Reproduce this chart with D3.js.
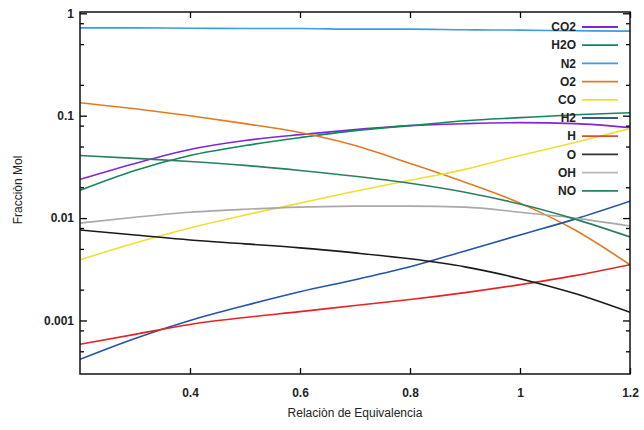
<!DOCTYPE html>
<html>
<head>
<meta charset="utf-8">
<script src="https://cdn.jsdelivr.net/npm/d3@7"></script>
<style>
  body { margin: 0; background: #fff; }
  text { font-family: "Liberation Sans", Arial, sans-serif; }
</style>
</head>
<body>
<div id="chart"></div>
<script>
// equivalence ratio samples
const phi = [0.2, 0.3, 0.4, 0.5, 0.6, 0.7, 0.8, 0.9, 1.0, 1.1, 1.2];

// mole fractions
const co2 = [0.0239, 0.0342, 0.0468, 0.0572, 0.0654, 0.0731, 0.080, 0.0836, 0.0855, 0.0836, 0.0764];
const h2o = [0.0187, 0.0292, 0.0409, 0.0511, 0.0611, 0.0715, 0.080, 0.0894, 0.0957, 0.102, 0.107];
const n2  = [0.72, 0.72, 0.715, 0.71, 0.71, 0.70, 0.70, 0.69, 0.685, 0.675, 0.67];
const o2  = [0.134, 0.117, 0.100, 0.0836, 0.0684, 0.0511, 0.0342, 0.0224, 0.0140, 0.00764, 0.0035];
const co  = [0.00391, 0.00572, 0.0080, 0.0107, 0.0140, 0.0183, 0.0234, 0.0299, 0.0409, 0.0547, 0.0748];
const h2  = [0.000418, 0.000668, 0.0010, 0.0014, 0.00191, 0.0025, 0.00334, 0.00478, 0.00684, 0.00977, 0.0146];
const h   = [0.000585, 0.000731, 0.000915, 0.00107, 0.00122, 0.0014, 0.0016, 0.00187, 0.00224, 0.00274, 0.0035];
const o   = [0.00764, 0.00684, 0.00611, 0.0056, 0.00512, 0.00457, 0.0040, 0.00334, 0.00256, 0.00183, 0.0012];
const oh  = [0.00894, 0.0102, 0.0114, 0.0122, 0.0128, 0.0131, 0.0131, 0.0128, 0.0114, 0.0100, 0.00836];
const no  = [0.0409, 0.0383, 0.0357, 0.0327, 0.0292, 0.0256, 0.0219, 0.0179, 0.0137, 0.00977, 0.00654];

const names = ["CO2", "H2O", "N2", "O2", "CO", "H2", "H", "O", "OH", "NO"];
const colors = ["#8424d8", "#13865a", "#3d9be0", "#e37a22", "#ece034", "#2653a8", "#e22424", "#1a1a1a", "#a8a8a8", "#2a7f60"];
const legendColors = ["#8424d8", "#13865a", "#3d9be0", "#e37a22", "#ece034", "#3b5a8c", "#e04a3a", "#333333", "#b8b8b8", "#2a7f60"];
const series = [co2, h2o, n2, o2, co, h2, h, o, oh, no];

const xTicks = [0.4, 0.6, 0.8, 1.0, 1.2];
const yTicks = [1, 0.1, 0.01, 0.001];
const yTickLabels = ["1", "0.1", "0.01", "0.001"];

const width = 644, height = 430;
const plotL = 80, plotR = 630, plotT = 12, plotB = 374;

let svg = d3.select("#chart").append("svg")
    .attr("width", width)
    .attr("height", height);

let xScale = d3.scaleLinear().domain([0.2, 1.2]).range([plotL, plotR]);
let yScale = d3.scaleLog().domain([0.0003, 1.03]).range([plotB, plotT]);

// minor ticks at 2, 5, 8 of each decade
let minor = [];
[0.0001, 0.001, 0.01, 0.1].forEach(d => {
    [2, 5, 8].forEach(m => {
        let v = d * m;
        if (v >= 0.0003 && v <= 1.03) minor.push(v);
    });
});

svg.append("defs").append("clipPath").attr("id", "clip")
    .append("rect")
    .attr("x", plotL).attr("y", plotT)
    .attr("width", plotR - plotL).attr("height", plotB - plotT);

// lines
let line = d3.line()
    .x((d, i) => xScale(phi[i]))
    .y(d => yScale(d))
    .curve(d3.curveMonotoneX);

svg.append("g")
    .attr("clip-path", "url(#clip)")
   .selectAll("path")
   .data(series)
   .join("path")
    .attr("d", d => line(d))
    .attr("fill", "none")
    .attr("stroke", (d, i) => colors[i])
    .attr("stroke-width", 1.6);

// axes
function styleAxis(g){
    g.select(".domain").remove();
    g.selectAll("line").attr("stroke", "#000").attr("stroke-width", 1.3);
    g.selectAll("text")
        .attr("fill", "#222")
        .style("font-size", "12px")
        .style("font-weight", "bold");
}

svg.append("g")
    .attr("transform", "translate(0," + plotB + ")")
    .call(d3.axisBottom(xScale).tickValues(xTicks).tickSize(-6).tickPadding(14)
        .tickFormat(d => d3.format("~g")(d)))
    .call(styleAxis);

svg.append("g")
    .attr("transform", "translate(0," + plotT + ")")
    .call(d3.axisTop(xScale).tickValues(xTicks).tickSize(-6).tickFormat(""))
    .call(styleAxis);

svg.append("g")
    .attr("transform", "translate(" + plotL + ",0)")
    .call(d3.axisLeft(yScale).tickValues(yTicks).tickSize(-7).tickPadding(6)
        .tickFormat((d, i) => yTickLabels[i]))
    .call(styleAxis);

svg.append("g")
    .attr("transform", "translate(" + plotL + ",0)")
    .call(d3.axisLeft(yScale).tickValues(minor).tickSize(-4).tickFormat(""))
    .call(styleAxis);

svg.append("g")
    .attr("transform", "translate(" + plotR + ",0)")
    .call(d3.axisRight(yScale).tickValues(yTicks).tickSize(-7).tickFormat(""))
    .call(styleAxis);

svg.append("g")
    .attr("transform", "translate(" + plotR + ",0)")
    .call(d3.axisRight(yScale).tickValues(minor).tickSize(-4).tickFormat(""))
    .call(styleAxis);

// frame
svg.append("rect")
    .attr("x", plotL).attr("y", plotT)
    .attr("width", plotR - plotL).attr("height", plotB - plotT)
    .attr("fill", "none")
    .attr("stroke", "#111")
    .attr("stroke-width", 1.5);

// axis titles
svg.append("text")
    .attr("x", (plotL + plotR) / 2)
    .attr("y", 417)
    .attr("text-anchor", "middle")
    .attr("fill", "#222")
    .style("font-size", "12px")
    .text("Relaciòn de Equivalencia");

svg.append("text")
    .attr("transform", "translate(22,190) rotate(-90)")
    .attr("text-anchor", "middle")
    .attr("fill", "#222")
    .style("font-size", "12px")
    .text("Fracciòn Mol");

// legend
let legend = svg.append("g")
   .selectAll("g")
   .data(names)
   .join("g")
    .attr("transform", (d, i) => "translate(0," + (27 + i * 18.2) + ")");

legend.append("text")
    .attr("x", 576)
    .attr("dy", "0.35em")
    .attr("text-anchor", "end")
    .attr("fill", "#222")
    .style("font-size", "12px")
    .style("font-weight", "bold")
    .text(d => d);

legend.append("line")
    .attr("x1", 582).attr("x2", 618)
    .attr("stroke", (d, i) => legendColors[i])
    .attr("stroke-width", 1.8);
</script>
</body>
</html>
